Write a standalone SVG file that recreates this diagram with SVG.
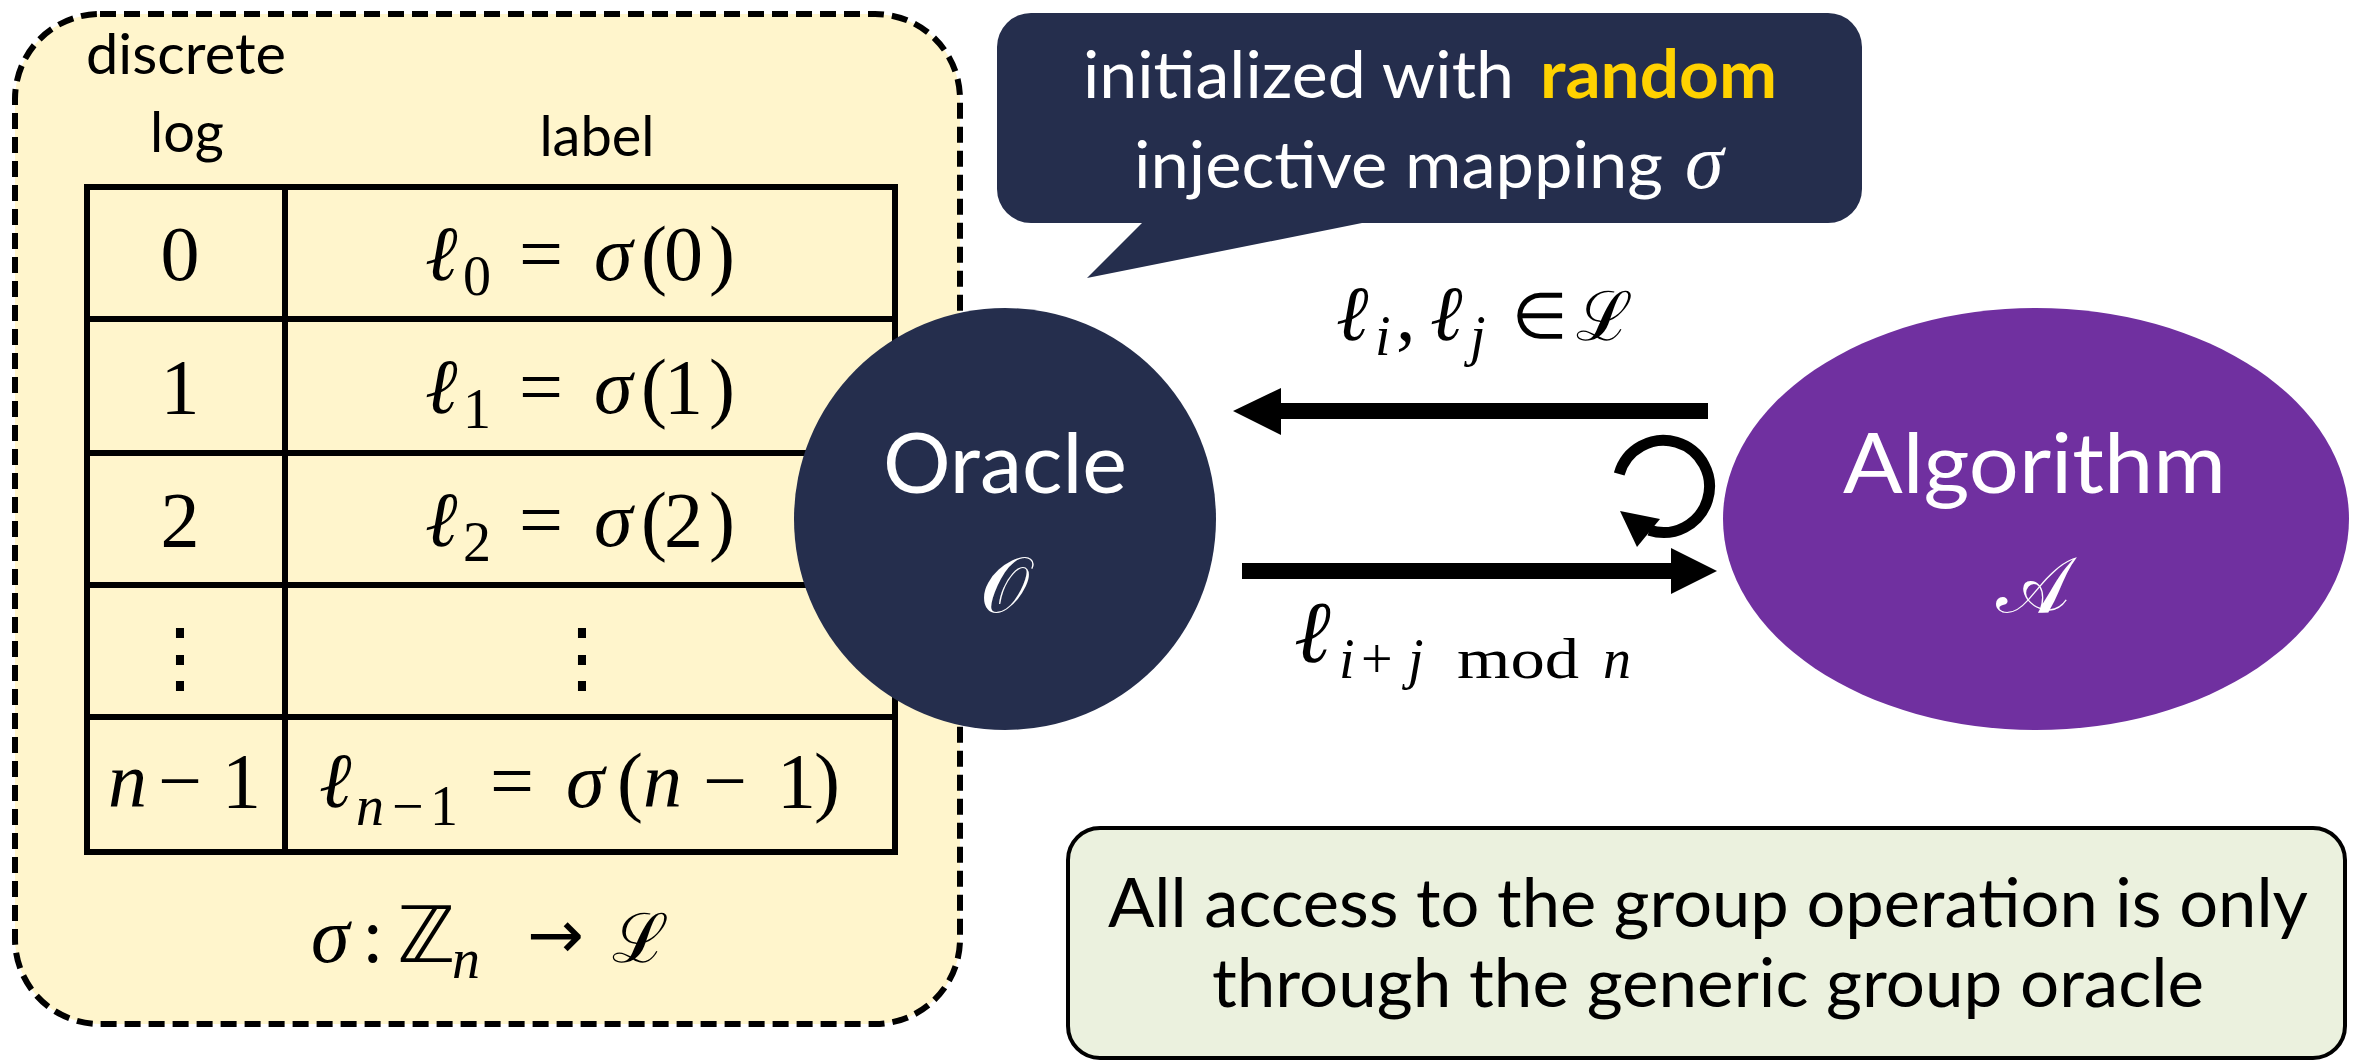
<svg xmlns="http://www.w3.org/2000/svg" width="2356" height="1063" viewBox="0 0 2356 1063">
  <style>
    .ui { font-family: Lato, "Open Sans", "Liberation Sans", sans-serif; }
    .m { font-family: "Liberation Serif", "DejaVu Serif", serif; font-size: 78px; fill: #000; }
    .mi { font-style: italic; }
    .sub { font-size: 56px; }
    .sym { font-family: "DejaVu Sans", sans-serif; }
    .scr { font-size: 68px; }
    .grid { stroke: #000; stroke-width: 6; fill: none; }
    .hdr { font-size: 56px; fill: #000; }
    .wt { fill: #fff; }
    .big { font-size: 84px; }
    .note { font-size: 67px; fill: #000; }
  </style>
  <rect width="2356" height="1063" fill="#fff"/>

  <!-- discrete log / label table -->
  <g id="mapping-table">
    <rect x="15" y="14" width="945" height="1010" rx="85" fill="#FFF5CC" stroke="#000" stroke-width="6" stroke-dasharray="16 8"/>
    <text class="ui hdr" x="86" y="74" textLength="200" lengthAdjust="spacingAndGlyphs">discrete</text>
    <text class="ui hdr" x="187" y="152" text-anchor="middle">log</text>
    <text class="ui hdr" x="597" y="156" text-anchor="middle">label</text>
    <rect class="grid" x="87" y="187" width="808" height="665"/>
    <path class="grid" d="M285 187V852M87 319H895M87 453H895M87 585H895M87 717H895"/>

    <!-- row 0 -->
    <text class="m" x="180" y="280" text-anchor="middle">0</text>
    <text class="m"><tspan class="mi" x="425" y="280">ℓ</tspan><tspan class="sub" x="463" y="295">0</tspan><tspan x="519" y="280">=</tspan><tspan class="mi" x="594" y="280">σ</tspan><tspan x="641" y="280">(</tspan><tspan x="664" y="280">0</tspan><tspan x="709" y="280">)</tspan></text>
    <!-- row 1 -->
    <text class="m" x="180" y="413" text-anchor="middle">1</text>
    <text class="m"><tspan class="mi" x="425" y="413">ℓ</tspan><tspan class="sub" x="463" y="428">1</tspan><tspan x="519" y="413">=</tspan><tspan class="mi" x="594" y="413">σ</tspan><tspan x="641" y="413">(</tspan><tspan x="664" y="413">1</tspan><tspan x="709" y="413">)</tspan></text>
    <!-- row 2 -->
    <text class="m" x="180" y="546" text-anchor="middle">2</text>
    <text class="m"><tspan class="mi" x="425" y="546">ℓ</tspan><tspan class="sub" x="463" y="561">2</tspan><tspan x="519" y="546">=</tspan><tspan class="mi" x="594" y="546">σ</tspan><tspan x="641" y="546">(</tspan><tspan x="664" y="546">2</tspan><tspan x="709" y="546">)</tspan></text>
    <!-- ellipsis row -->
    <text class="m" x="180" y="684" text-anchor="middle">⋮</text>
    <text class="m" x="582" y="684" text-anchor="middle">⋮</text>
    <!-- row n-1 -->
    <text class="m"><tspan class="mi" x="108" y="807">n</tspan><tspan x="158" y="807">−</tspan><tspan x="222" y="807">1</tspan></text>
    <text class="m"><tspan class="mi" x="319" y="807">ℓ</tspan><tspan class="sub mi" x="356" y="825">n</tspan><tspan class="sub" x="392" y="825">−</tspan><tspan class="sub" x="430" y="825">1</tspan><tspan x="490" y="807">=</tspan><tspan class="mi" x="566" y="807">σ</tspan><tspan x="617" y="807">(</tspan><tspan class="mi" x="643" y="807">n</tspan><tspan x="703" y="807">−</tspan><tspan x="777" y="807">1</tspan><tspan x="814" y="807">)</tspan></text>

    <!-- mapping signature -->
    <text class="m"><tspan class="mi" x="311" y="962">σ</tspan><tspan x="362" y="962">:</tspan><tspan class="sym" x="397" y="962">ℤ</tspan><tspan class="sub mi" x="452" y="978">n</tspan><tspan class="sym" font-size="68" x="527" y="958">→</tspan><tspan class="scr" x="612" y="962">ℒ</tspan></text>
  </g>

  <!-- speech bubble -->
  <g id="init-bubble">
    <path d="M1031 13H1828A34 34 0 0 1 1862 47V189A34 34 0 0 1 1828 223H1362L1087 278L1142 223H1031A34 34 0 0 1 997 189V47A34 34 0 0 1 1031 13Z" fill="#252E4D"/>
    <text class="ui wt" font-size="66" x="1083" y="98" textLength="431" lengthAdjust="spacingAndGlyphs">initialized with</text>
    <text class="ui" font-size="66" font-weight="bold" fill="#FFD200" x="1540" y="98" textLength="237" lengthAdjust="spacingAndGlyphs">random</text>
    <text class="ui wt" font-size="66" x="1134" y="188" textLength="529" lengthAdjust="spacingAndGlyphs">injective mapping</text>
    <text class="m mi wt" x="1685" y="188">σ</text>
  </g>

  <!-- oracle node -->
  <g id="oracle">
    <circle cx="1005" cy="519" r="211" fill="#252E4D"/>
    <text class="ui wt big" x="883" y="493" textLength="244" lengthAdjust="spacingAndGlyphs">Oracle</text>
    <text class="m wt" font-size="110" x="1004" y="612" text-anchor="middle">𝒪</text>
  </g>

  <!-- algorithm node -->
  <g id="algorithm">
    <ellipse cx="2036" cy="519" rx="313" ry="211" fill="#7030A0"/>
    <text class="ui wt big" x="1843" y="493" textLength="383" lengthAdjust="spacingAndGlyphs">Algorithm</text>
    <text class="m wt" font-size="120" x="2033" y="612" text-anchor="middle">𝒜</text>
  </g>

  <!-- note box -->
  <g id="note">
    <rect x="1068" y="828" width="1277" height="230" rx="32" fill="#EBF1DE" stroke="#000" stroke-width="4"/>
    <text class="ui note" x="1108" y="927" textLength="1200" lengthAdjust="spacingAndGlyphs">All access to the group operation is only</text>
    <text class="ui note" x="1212" y="1007" textLength="992" lengthAdjust="spacingAndGlyphs">through the generic group oracle</text>
  </g>

  <!-- queries and answers between algorithm and oracle -->
  <g id="connectors" fill="#000">
    <path d="M1708 403H1281V388L1233 411L1281 435V419H1708Z"/>
    <path d="M1242 563H1671V548L1717 571L1671 594V579H1242Z"/>
    <path d="M1619.2 474A46 46 0 1 1 1649.3 530.2" fill="none" stroke="#000" stroke-width="11"/>
    <polygon points="1620,511 1660,519 1637,547"/>
    <text class="m"><tspan class="mi" x="1336" y="340">ℓ</tspan><tspan class="sub mi" x="1375" y="355">i</tspan><tspan x="1396" y="340">,</tspan><tspan class="mi" x="1430" y="340">ℓ</tspan><tspan class="sub mi" x="1470" y="355">j</tspan><tspan class="sym" font-size="64" x="1512" y="338">∈</tspan><tspan class="scr" x="1576" y="340">ℒ</tspan></text>
    <text class="m"><tspan class="mi" font-size="88" x="1294" y="662">ℓ</tspan><tspan class="sub mi" x="1339" y="678">i</tspan><tspan class="sub" x="1361" y="678">+</tspan><tspan class="sub mi" x="1408" y="678">j</tspan><tspan class="sub" x="1457" y="678" textLength="122" lengthAdjust="spacingAndGlyphs">mod</tspan><tspan class="sub mi" x="1603" y="678">n</tspan></text>
  </g>
</svg>
